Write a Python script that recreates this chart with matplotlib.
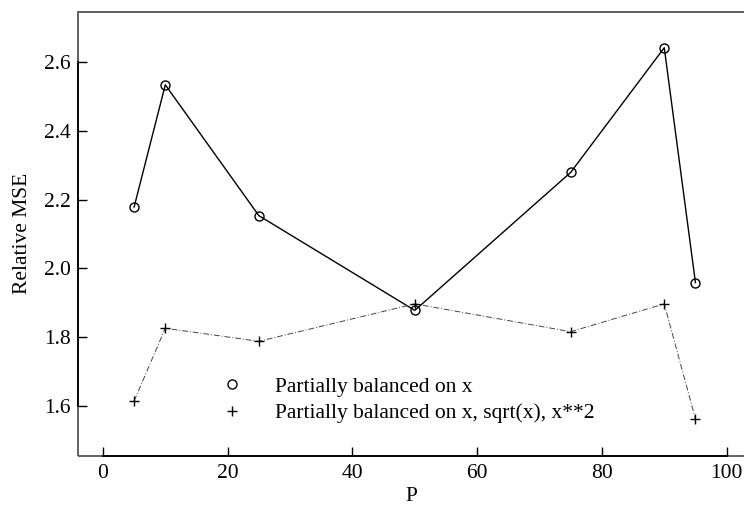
import matplotlib
matplotlib.use("Agg")
import matplotlib.pyplot as plt
from matplotlib.lines import Line2D
from matplotlib.patches import Rectangle

plt.rcParams["font.family"] = ["Liberation Serif", "DejaVu Serif"]
plt.rcParams["font.size"] = 15.5

p = [5, 10, 25, 50, 75, 90, 95]
mse_x = [2.178, 2.534, 2.153, 1.877, 2.279, 2.642, 1.958]
mse_x_sqrt_sq = [1.613, 1.825, 1.787, 1.896, 1.815, 1.896, 1.561]

label_x = "Partially balanced on x"
label_all = "Partially balanced on x, sqrt(x), x**2"

fig = plt.figure(figsize=(7.44, 5.15), dpi=100)
ax = fig.add_axes([0.1048, 0.1146, 0.897, 0.8627])

ax.plot(p, mse_x, color="black", lw=1.0, marker="o", ms=6.5,
        mfc="none", mec="black", mew=1.0)
ax.plot(p, mse_x_sqrt_sq, color="#444444", lw=0.7, ls=(0, (6, 2, 1, 2)),
        marker="+", ms=7, mec="black", mew=1.0)

ax.set_xlim(-4, 103)
ax.set_ylim(1.453, 2.747)
ax.set_xticks([0, 20, 40, 60, 80, 100])
ax.set_yticks([1.6, 1.8, 2.0, 2.2, 2.4, 2.6])
ax.yaxis.set_major_formatter(plt.FormatStrFormatter("%.1f"))
ax.tick_params(direction="in", length=6.5, width=1.0, color="black")
ax.tick_params(axis="y", pad=5)
ax.tick_params(axis="x", pad=6)

# grey frame, with black axis lines spanning the tick range
for side in ["top", "right"]:
    ax.spines[side].set_visible(False)
ax.add_patch(Rectangle((0, 0), 1, 1, transform=ax.transAxes, fill=False,
                       edgecolor="#555555", lw=1.3, clip_on=False, zorder=0))
ax.spines["left"].set_bounds(1.6, 2.6)
ax.spines["bottom"].set_bounds(0, 100)
for side in ["left", "bottom"]:
    ax.spines[side].set_color("black")
    ax.spines[side].set_linewidth(1.3)

ax.set_xlabel("P", labelpad=3)
ax.set_ylabel("Relative MSE", labelpad=9)

handles = [
    Line2D([], [], ls="none", marker="o", ms=6.5, mfc="none", mec="black", mew=1.0),
    Line2D([], [], ls="none", marker="+", ms=7, mec="black", mew=1.0),
]
fig.legend(handles, [label_x, label_all], loc="center left",
           bbox_to_anchor=(0.297, 0.223), frameon=False, borderpad=0,
           borderaxespad=0, handlelength=1.0, handletextpad=1.5,
           labelspacing=0.3)

fig.savefig("out.png", dpi=100)
